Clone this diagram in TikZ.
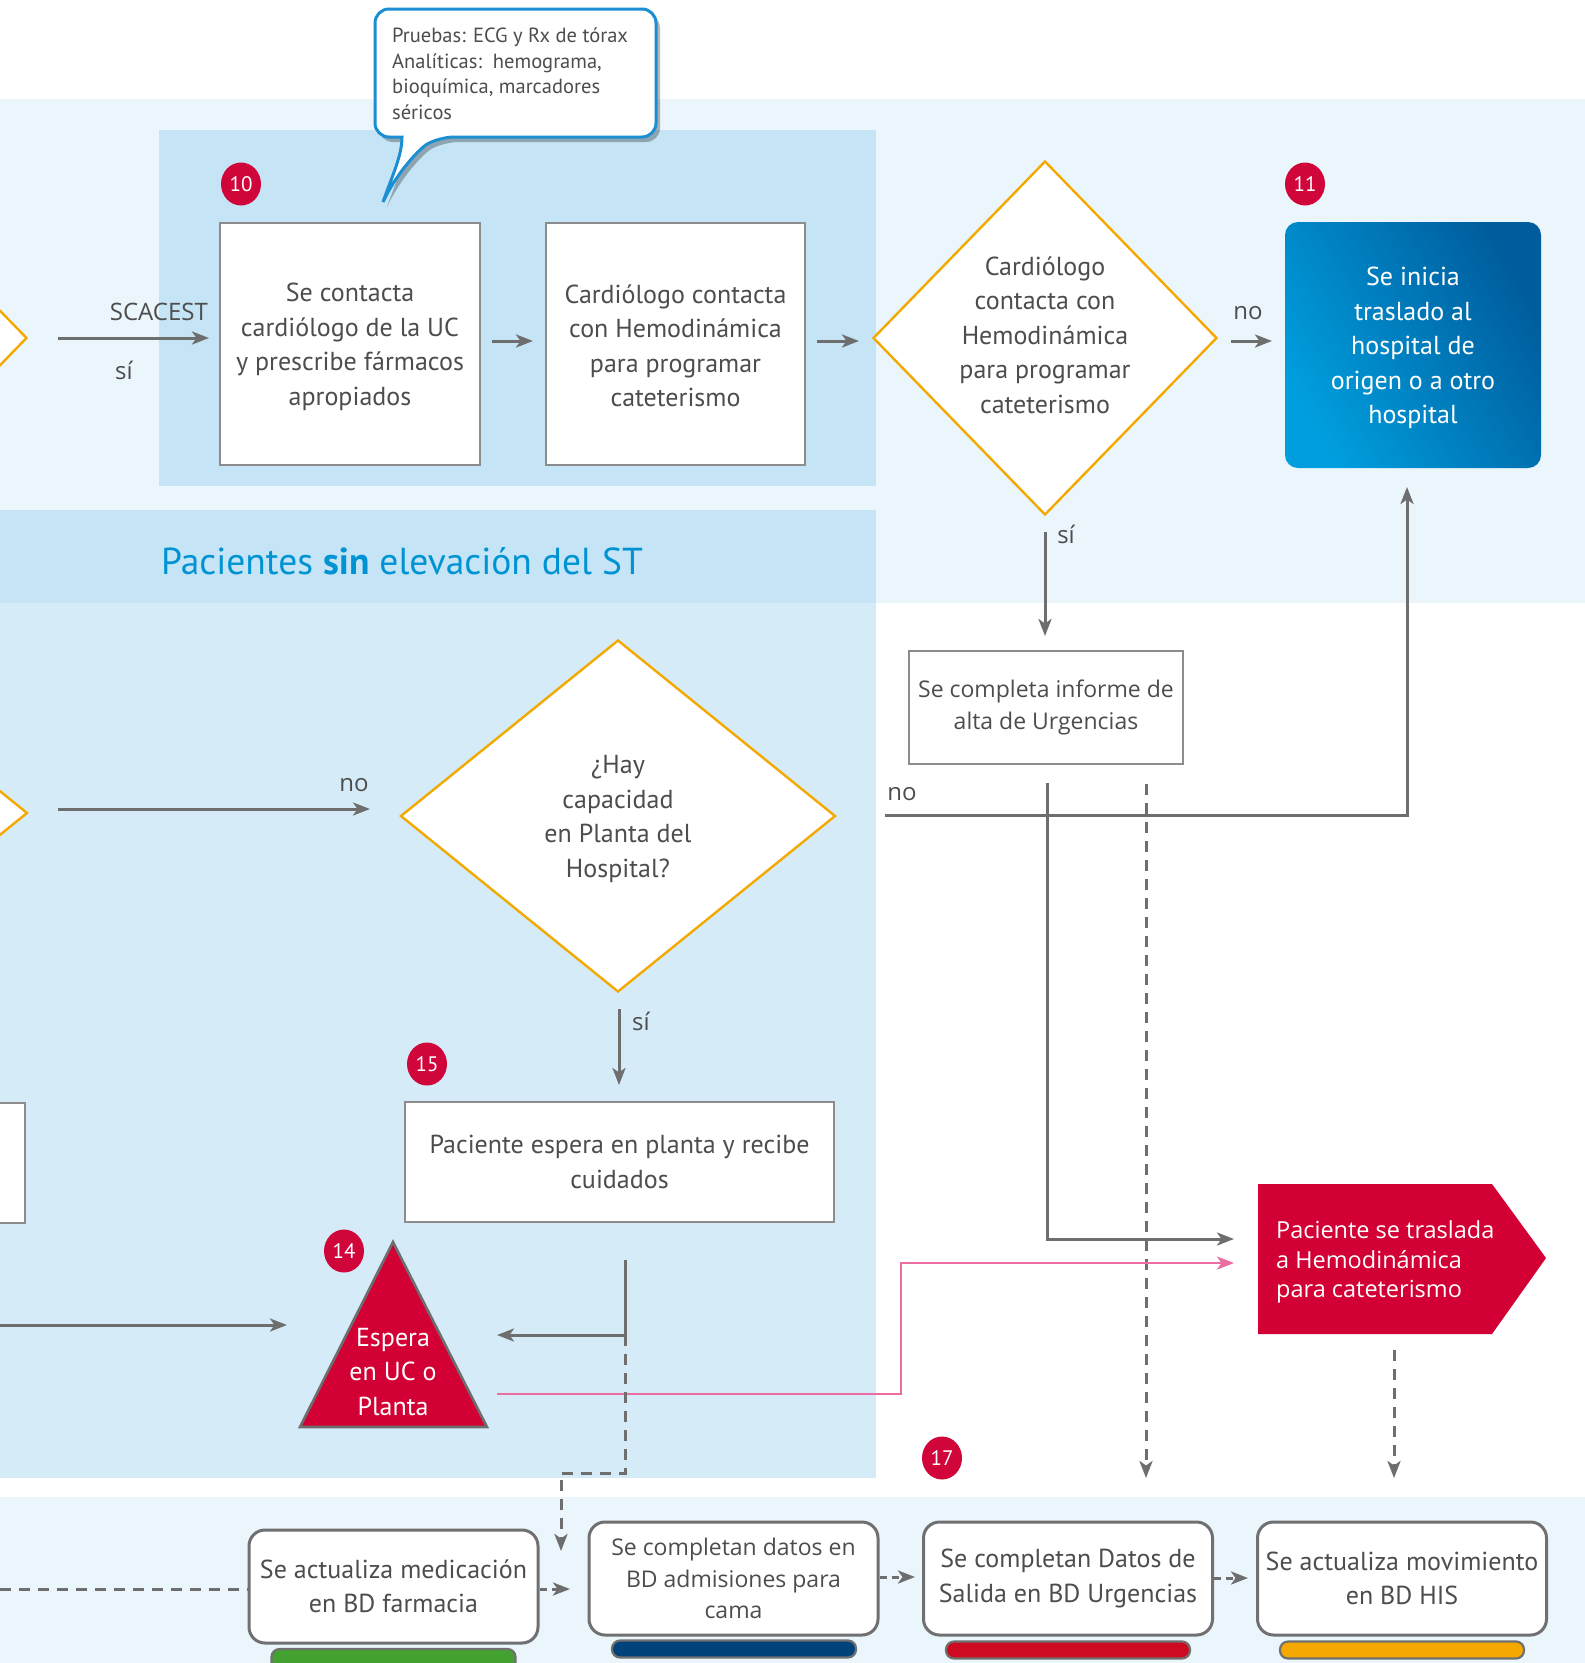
\documentclass[tikz,border=0pt]{standalone}
\usepackage{fontspec}
\setmainfont{PT Sans}
\newfontfamily\widefont{Open Sans}
\usetikzlibrary{arrows.meta,shapes.geometric,calc}

\definecolor{bandlight}{HTML}{EAF5FC}
\definecolor{banddark}{HTML}{C5E4F6}
\definecolor{bandmid}{HTML}{D5EBF8}
\definecolor{txtgray}{HTML}{4D4D4D}
\definecolor{linegray}{HTML}{6E6E6E}
\definecolor{boxgray}{HTML}{8C8C8C}
\definecolor{rimgray}{HTML}{707070}
\definecolor{decor}{HTML}{F4A900}
\definecolor{alertred}{HTML}{D20034}
\definecolor{badgered}{HTML}{D0053A}
\definecolor{pinkline}{HTML}{EC6DA2}
\definecolor{headblue}{HTML}{0093D3}
\definecolor{bluelight}{HTML}{009EDE}
\definecolor{bluedark}{HTML}{005C9C}
\definecolor{callblue}{HTML}{1C8ED2}
\definecolor{bargreen}{HTML}{43A12F}
\definecolor{barnavy}{HTML}{00427A}
\definecolor{barred}{HTML}{CE0A22}
\definecolor{barorange}{HTML}{F5A800}

\newcommand\txtmain{\fontsize{26}{34.5}\selectfont}
\newcommand\txtwide{\widefont\fontsize{23}{31.5}\selectfont}

\begin{document}
\begin{tikzpicture}[x=1pt,y=-1pt,
  box/.style={draw=boxgray, line width=1.6pt, fill=white, inner sep=0pt,
    align=center, text=txtgray, font=\txtmain},
  rbox/.style={draw=rimgray, line width=3pt, fill=white, rounded corners=16pt,
    inner sep=0pt, align=center, text=txtgray, font=\txtmain,
    minimum width=289pt, minimum height=113pt},
  bar/.style={draw=rimgray, line width=2.2pt, rounded corners=8pt,
    minimum width=244pt, minimum height=17pt, inner sep=0pt},
  dia/.style={diamond, draw=decor, line width=2.4pt, fill=white, inner sep=0pt},
  diatext/.style={align=center, text=txtgray, font=\txtmain, inner sep=0pt},
  badge/.style={ellipse, fill=badgered, text=white, inner sep=0pt,
    minimum width=40pt, minimum height=43pt, font=\fontsize{21}{21}\selectfont},
  plain/.style={draw=linegray, line width=3pt},
  arr/.style={plain, -{Stealth[length=17pt,width=13pt,inset=4.5pt]}},
  darr/.style={arr, dash pattern=on 11pt off 8pt},
  dline/.style={plain, dash pattern=on 11pt off 8pt},
  sarr/.style={arr, dash pattern=on 7pt off 5pt},
  parr/.style={draw=pinkline, line width=2.8pt, -{Stealth[length=17pt,width=13pt,inset=4.5pt]}},
  lbl/.style={text=txtgray, font=\widefont\fontsize{24}{24}\selectfont, inner sep=0pt},
]
\useasboundingbox (0,0) rectangle (1585,1663);
\clip (0,0) rectangle (1585,1663);

% ---------- background bands ----------
\fill[white] (0,0) rectangle (1585,1663);
\fill[bandlight] (0,99) rectangle (1585,603);
\fill[banddark] (159,130) rectangle (876,486);
\fill[banddark] (0,510) rectangle (876,603);
\fill[bandmid] (0,603) rectangle (876,1478);
\fill[bandlight] (0,1497) rectangle (1585,1663);

% ---------- heading ----------
\node[anchor=west, text=headblue, font=\fontsize{37.5}{37.5}\selectfont, inner sep=0pt]
  (heading) at (161,561) {Pacientes \textbf{sin} elevación del ST};

% ---------- decision shapes ----------
\node[dia, minimum width=344pt, minimum height=354pt] (d0) at (-145,338) {};
\node[dia, minimum width=344pt, minimum height=354pt] (d1) at (1045,338) {};
\node[diatext] (d1t) at (1045,335) {Cardiólogo\\contacta con\\Hemodinámica\\para programar\\cateterismo};
\node[dia, minimum width=435pt, minimum height=352pt] (dm) at (-190,813) {};
\node[dia, minimum width=435pt, minimum height=352pt] (d2) at (618,816) {};
\node[diatext] (d2t) at (618,819) {¿Hay\\capacidad\\en Planta del\\Hospital?};

% ---------- process boxes ----------
\node[box, minimum width=260pt, minimum height=242pt] (b10a) at (350,344) {};
\node[diatext] (b10at) at (350,347)
  {Se contacta\\cardiólogo de la UC\\y prescribe fármacos\\apropiados};
\node[box, minimum width=259pt, minimum height=242pt] (b10b) at (675.5,344) {};
\node[diatext] (b10bt) at (675.5,346)
  {Cardiólogo contacta\\con Hemodinámica\\para programar\\cateterismo};
\node[box, font=\txtwide, minimum width=274pt, minimum height=113pt] (urg) at (1046,707.5)
  {Se completa informe de\\alta de Urgencias};
\node[box, minimum width=429pt, minimum height=120pt] (planta) at (619.5,1162)
  {Paciente espera en planta y recibe\\cuidados};
\node[box, minimum width=100pt, minimum height=120pt] (prev) at (-25,1163) {};

% blue transfer box
\node[rounded corners=13pt, top color=bluedark, bottom color=bluelight, shading angle=-60,
  minimum width=256pt, minimum height=246pt, inner sep=0pt] (b11) at (1413,345) {};
\node[align=center, text=white, font=\txtmain, inner sep=0pt] (b11t) at (1413,348)
  {Se inicia\\traslado al\\hospital de\\origen o a otro\\hospital};

% red wait triangle
\path[fill=alertred, draw=linegray, line width=2.6pt] (393,1242) -- (487,1427) -- (300,1427) -- cycle;
\node[align=center, text=white, font=\txtmain, inner sep=0pt] (espera) at (393,1372)
  {Espera\\en UC o\\Planta};

% red arrow-shaped box
\path[fill=alertred] (1258,1184) -- (1492,1184) -- (1546,1258) -- (1492,1334) -- (1258,1334) -- cycle;
\node[anchor=west, align=left, text=white, font=\widefont\fontsize{23.5}{29.5}\selectfont,
  inner sep=0pt] (hemo) at (1276,1262)
  {Paciente se traslada\\a Hemodinámica\\para cateterismo};

% ---------- callout ----------
\begin{scope}[shift={(4,5)}]
  \path[fill=black, opacity=0.28]
    (656,70) [rounded corners=14pt] -- (656,137) -- (440,137) [sharp corners]
    .. controls (420,148) and (397,172) .. (383,202)
    .. controls (392,176) and (402,156) .. (402,137)
    [rounded corners=14pt] -- (375,137) -- (375,9) -- (656,9) -- cycle;
\end{scope}
\path[fill=white, draw=callblue, line width=3pt]
  (656,70) [rounded corners=14pt] -- (656,137) -- (440,137) [sharp corners]
  .. controls (420,148) and (397,172) .. (383,202)
  .. controls (392,176) and (402,156) .. (402,137)
  [rounded corners=14pt] -- (375,137) -- (375,9) -- (656,9) -- cycle;
\node[anchor=north west, align=left, text=txtgray, font=\fontsize{20.5}{25.5}\selectfont,
  inner sep=0pt] (calltext) at (392,28)
  {Pruebas: ECG y Rx de tórax\\Analíticas:\ \ hemograma,\\bioquímica, marcadores\\séricos};

% ---------- badges ----------
\node[badge] (n10) at (241,184) {10};
\node[badge] (n11) at (1305,184) {11};
\node[badge] (n15) at (427,1064) {15};
\node[badge] (n14) at (344,1251) {14};
\node[badge] (n17) at (942,1458) {17};

% ---------- lower record boxes ----------
\node[rbox] (r1) at (393.5,1586.5) {Se actualiza medicación\\en BD farmacia};
\node[rbox, font=\txtwide] (r2) at (733.5,1578.5) {Se completan datos en\\BD admisiones para\\cama};
\node[rbox] (r3) at (1068,1578.5) {Se completan Datos de\\Salida en BD Urgencias};
\node[rbox] (r4) at (1402,1578.5) {Se actualiza movimiento\\en BD HIS};
\node[bar, fill=bargreen, minimum height=30pt] (g1) at (393.5,1664) {};
\node[bar, fill=barnavy] (g2) at (734,1649) {};
\node[bar, fill=barred] (g3) at (1068,1650) {};
\node[bar, fill=barorange] (g4) at (1402,1650) {};

% ---------- connector end points ----------
\coordinate (scaA) at (58,338);   \coordinate (scaB) at (209,338);
\coordinate (c1A) at (492,341);   \coordinate (c1B) at (533,341);
\coordinate (c2A) at (817,341);   \coordinate (c2B) at (859,341);
\coordinate (noA) at (1231,341);  \coordinate (noB) at (1272,341);
\coordinate (siA) at (1045,532);  \coordinate (siB) at (1045,636);
\coordinate (ret0) at (885,815);  \coordinate (ret1) at (1407,815);  \coordinate (ret2) at (1407,487);
\coordinate (u0) at (1047,783);   \coordinate (u1) at (1047,1239);   \coordinate (u2) at (1234,1239);
\coordinate (v0) at (1146,784);   \coordinate (v1) at (1146,1478);
\coordinate (h0) at (1394,1350);  \coordinate (h1) at (1394,1478);
\coordinate (p0) at (497,1394);   \coordinate (p1) at (901,1394);
\coordinate (p2) at (901,1263);   \coordinate (p3) at (1234,1263);
\coordinate (mA) at (58,809);     \coordinate (mB) at (370,809);
\coordinate (s2A) at (619,1009);  \coordinate (s2B) at (619,1085);
\coordinate (wA) at (0,1325);     \coordinate (wB) at (287,1325);
\coordinate (q0) at (625,1260);   \coordinate (q1) at (625,1335);   \coordinate (q2) at (497,1335);
\coordinate (q3) at (625,1473);   \coordinate (q4) at (561,1473);   \coordinate (q5) at (561,1551);
\coordinate (f0) at (0,1589);
\coordinate (e1) at (570,1589);   \coordinate (e2) at (915,1577);   \coordinate (e3) at (1248,1578);

% ---------- connectors ----------
\draw[arr] (scaA) -- (scaB);
\draw[arr] (c1A) -- (c1B);
\draw[arr] (c2A) -- (c2B);
\draw[arr] (noA) -- (noB);
\draw[arr] (siA) -- (siB);
\draw[arr] (ret0) -- (ret1) -- (ret2);
\draw[arr] (u0) -- (u1) -- (u2);
\draw[darr] (v0) -- (v1);
\draw[darr] (h0) -- (h1);
\draw[parr] (p0) -- (p1) -- (p2) -- (p3);
\draw[arr] (mA) -- (mB);
\draw[arr] (s2A) -- (s2B);
\draw[arr] (wA) -- (wB);
\draw[arr] (q0) -- (q1) -- (q2);
\draw[darr] (q1) -- (q3) -- (q4) -- (q5);
\draw[dline] (f0) -- (r1.west |- f0);
\draw[sarr] (r1.east |- e1) -- (e1);
\draw[sarr] (r2.east |- e2) -- (e2);
\draw[sarr] (r3.east |- e3) -- (e3);

% ---------- connector labels ----------
\node[lbl, anchor=east] (lsca) at (208,312) {SCACEST};
\node[lbl] (lsi1) at (124,370) {sí};
\node[lbl] (lno1) at (1248,313) {no};
\node[lbl] (lsi2) at (1066,534) {sí};
\node[lbl] (lno2) at (902,794) {no};
\node[lbl] (lno3) at (354,785) {no};
\node[lbl] (lsi3) at (641,1021) {sí};
\end{tikzpicture}
\end{document}
